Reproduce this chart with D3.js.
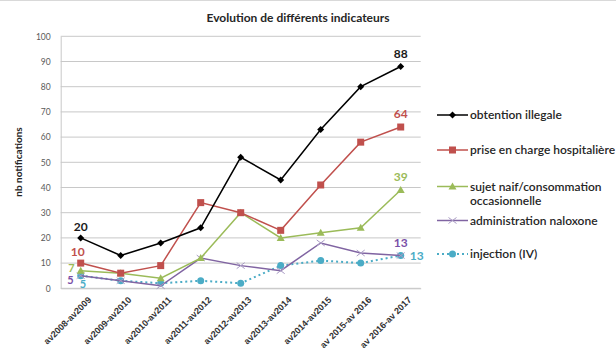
<!DOCTYPE html>
<html><head><meta charset="utf-8">
<script src="https://cdn.jsdelivr.net/npm/d3@7"></script>
<style>body{margin:0;background:#fff;overflow:hidden}svg{display:block;font-family:Lato,"Open Sans",sans-serif}</style>
</head><body><svg id="c" width="616" height="354"></svg>
<script>
const categories = ["av2008-av2009","av2009-av2010","av2010-av2011","av2011-av2012","av2012-av2013","av2013-av2014","av2014-av2015","av 2015-av 2016","av 2016-av 2017"];
const obtention = [20,13,18,24,52,43,63,80,88];
const priseEnCharge = [10,6,9,34,30,23,41,58,64];
const sujetNaif = [7,6,4,12,30,20,22,24,39];
const naloxone = [5,3,1,12,9,7,18,14,13];
const injection = [5,3,2,3,2,9,11,10,13];
const yTicks = [0,10,20,30,40,50,60,70,80,90,100];
const seriesNames = ["obtention illegale","prise en charge hospitalière","sujet naif/consommation occasionnelle","administration naloxone","injection (IV)"];

const series = [
  {name:seriesNames[0], values:obtention, color:"#000000", lab:"#1a1a1a", marker:"diamond", dash:null},
  {name:seriesNames[1], values:priseEnCharge, color:"#c0504d", lab:"#c0504d", marker:"square", dash:null},
  {name:seriesNames[2], values:sujetNaif, color:"#9bbb59", lab:"#9bbb59", marker:"triangle", dash:null},
  {name:seriesNames[3], values:naloxone, color:"#8064a2", lab:"#7a4fa8", marker:"x", dash:null},
  {name:seriesNames[4], values:injection, color:"#4bacc6", lab:"#4bacc6", marker:"circle", dash:"2,3"}
];

const svg = d3.select("#c");
const L=60.7, R=420.7, T=36.3, B=288.3;
const x = d3.scaleBand().domain(categories).range([L,R]);
const y = d3.scaleLinear().domain([0,100]).range([B,T]);
const cx = c => x(c)+x.bandwidth()/2;

svg.append("line").attr("x1",0).attr("x2",616).attr("y1",0.5).attr("y2",0.5).attr("stroke","#d9d9d9");

svg.append("g").selectAll("line").data(yTicks).join("line")
  .attr("x1",L).attr("x2",R).attr("y1",d=>y(d)).attr("y2",d=>y(d))
  .attr("stroke","#c8c8c8").attr("stroke-width",1);

const ya = svg.append("g").attr("transform",`translate(${L},0)`)
  .call(d3.axisLeft(y).tickValues(yTicks).tickSize(0).tickPadding(10));
ya.select(".domain").attr("stroke","#c8c8c8");
ya.selectAll("text").attr("font-size",8.5).attr("fill","#595959").attr("font-family","Lato");

const xa = svg.append("g").attr("transform",`translate(0,${B})`)
  .call(d3.axisBottom(x).tickSize(0).tickPadding(0));
xa.select(".domain").attr("stroke","#c8c8c8");
xa.selectAll("text").attr("font-size",9).attr("fill","#333").attr("font-weight","bold")
  .attr("text-anchor","end").attr("transform","translate(9,10) rotate(-45)").attr("dy","0.35em");

svg.append("text").attr("x",298).attr("y",22).attr("text-anchor","middle")
  .attr("font-size",12).attr("font-weight","bold").attr("fill","#262626").text("Evolution de différents indicateurs");
svg.append("text").attr("transform","translate(22,162) rotate(-90)").attr("text-anchor","middle")
  .attr("font-size",10).attr("font-weight","bold").attr("fill","#262626").text("nb notifications");

function drawMarker(g, m, color, px, py){
  if(m==="diamond") g.append("path").attr("d",`M${px},${py-3.5}L${px+3.5},${py}L${px},${py+3.5}L${px-3.5},${py}Z`).attr("fill",color);
  else if(m==="square") g.append("rect").attr("x",px-3.5).attr("y",py-3.5).attr("width",7).attr("height",7).attr("fill",color);
  else if(m==="triangle") g.append("path").attr("d",`M${px},${py-4}L${px+4},${py+3}L${px-4},${py+3}Z`).attr("fill",color);
  else if(m==="x") g.append("path").attr("d",`M${px-4},${py-3}L${px+4},${py+3}M${px-4},${py+3}L${px+4},${py-3}`).attr("stroke","#a99bc4").attr("stroke-width",1);
  else if(m==="circle") g.append("circle").attr("cx",px).attr("cy",py).attr("r",3.5).attr("fill",color);
}

const line = d3.line().x((d,i)=>cx(categories[i])).y(d=>y(d));
series.slice().reverse().forEach(s=>{
  const g = svg.append("g");
  g.append("path").datum(s.values).attr("d",line).attr("fill","none").attr("stroke",s.color)
    .attr("stroke-width",s.dash?2:1.5).attr("stroke-dasharray",s.dash);
  s.values.forEach((v,i)=>drawMarker(g,s.marker,s.color,cx(categories[i]),y(v)));
});

const lab = (t,px,py,color,anchor,fs)=>svg.append("text").attr("x",px).attr("y",py).attr("text-anchor",anchor||"middle")
  .attr("font-size",fs||12).attr("font-weight","bold").attr("fill",color).text(t);
const f = categories[0], l = categories[categories.length-1];
lab(obtention[0], cx(f), y(obtention[0])-7, series[0].lab);
lab(priseEnCharge[0], cx(f)-3, y(priseEnCharge[0])-7, series[1].lab);
lab(sujetNaif[0], cx(f)-6, y(sujetNaif[0])+1, series[2].lab, "end", 11);
lab(naloxone[0], cx(f)-7, y(naloxone[0])+8, series[3].lab, "end", 11);
lab(injection[0], cx(f)-1, y(injection[0])+12, series[4].lab, "start", 11);
lab(obtention[8], cx(l), y(obtention[8])-9, series[0].lab);
lab(priseEnCharge[8], cx(l), y(priseEnCharge[8])-9, series[1].lab);
lab(sujetNaif[8], cx(l), y(sujetNaif[8])-9, series[2].lab);
lab(naloxone[8], cx(l), y(naloxone[8])-9, series[3].lab);
lab(injection[8], cx(l)+9, y(injection[8])+4, series[4].lab, "start");

const legY = [115,150,186.5,220.5,254];
series.forEach((s,i)=>{
  const g = svg.append("g");
  const yy = legY[i];
  g.append("line").attr("x1",437).attr("x2",468).attr("y1",yy).attr("y2",yy).attr("stroke",s.color)
    .attr("stroke-width",s.dash?2:1.5).attr("stroke-dasharray",s.dash);
  drawMarker(g,s.marker,s.color,452.5,yy);
  const t = g.append("text").attr("x",470).attr("y",yy+4).attr("font-size",12).attr("font-weight",600).attr("fill","#262626");
  if(i===2){
    t.append("tspan").attr("x",470).text("sujet naif/consommation");
    t.append("tspan").attr("x",470).attr("dy",14).text("occasionnelle");
  } else t.text(s.name);
});
</script></body></html>
